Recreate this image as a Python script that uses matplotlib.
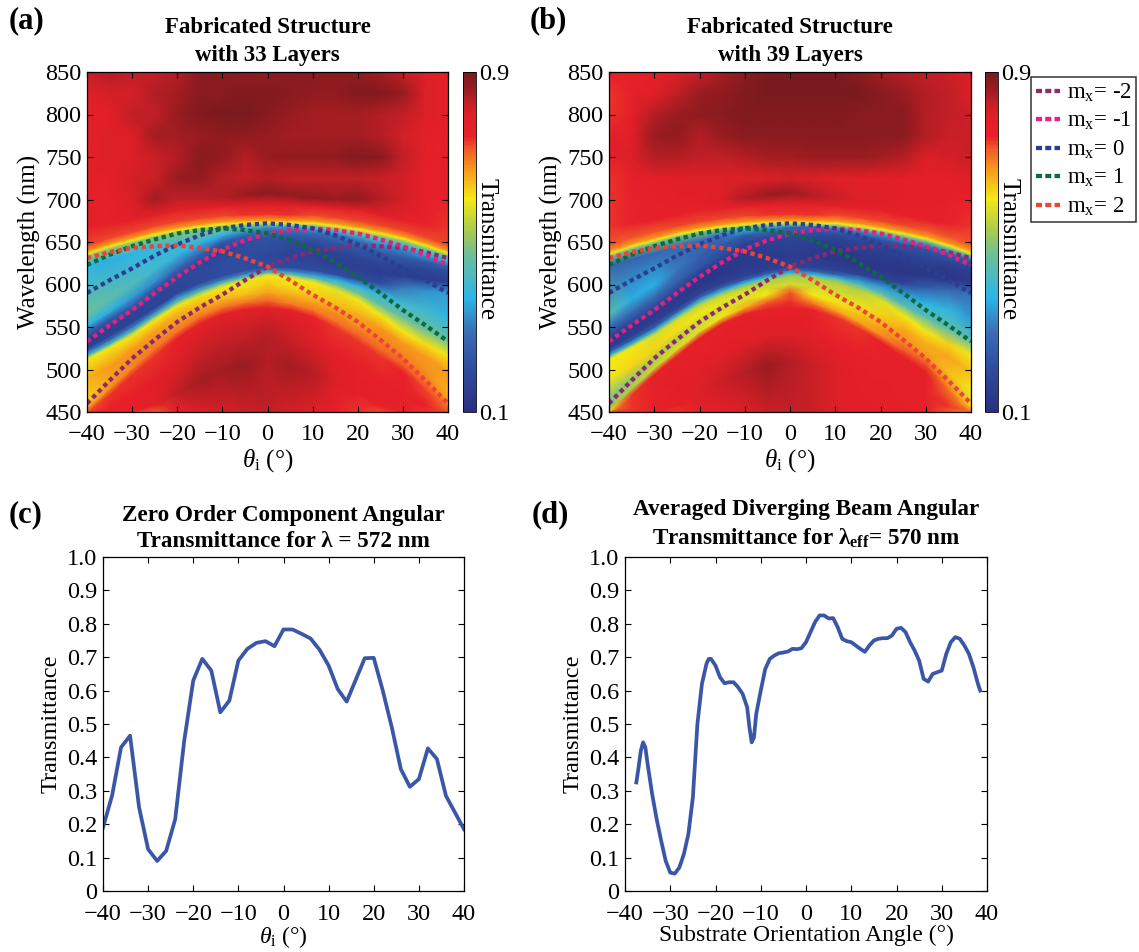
import numpy as np
import matplotlib
matplotlib.use('Agg')
from matplotlib import pyplot as plt
from matplotlib.colors import LinearSegmentedColormap, Normalize
from matplotlib.cm import ScalarMappable
from matplotlib.lines import Line2D

plt.rcParams['font.family'] = ['Liberation Serif', 'DejaVu Serif']
plt.rcParams['mathtext.fontset'] = 'custom'
plt.rcParams['mathtext.rm'] = 'Liberation Serif'
plt.rcParams['mathtext.it'] = 'Liberation Serif:italic'
plt.rcParams['mathtext.bf'] = 'Liberation Serif:bold'

W, H = 1139, 952

# angles of the columns (a) and (b)
angles = [-40, -35, -30, -25, -20, -15, -10, -5, 0, 5, 10, 15, 20, 25, 30, 35, 40]

# wavelength of each mesh row, per column, following the bands in the picture
wl_rows = [
    [450, 450, 450, 450, 450, 450, 450, 450, 450, 450, 450, 450, 450, 450, 450, 450, 450],
    [450, 450, 451, 458, 472, 486, 497, 505, 510, 505, 497, 486, 472, 458, 451, 450, 450],
    [450, 455, 470, 488, 505, 520, 532, 538, 541, 538, 532, 520, 505, 488, 470, 458, 450],
    [450, 470, 494, 516, 537, 554, 565, 571, 573, 570, 562, 549, 533, 515, 497, 477, 457],
    [455, 478, 502, 524, 545, 562, 573, 579, 581, 578, 570, 557, 541, 523, 505, 485, 465],
    [463, 488, 513, 535, 556, 572, 582, 588, 591, 588, 580, 567, 551, 534, 516, 497, 476],
    [490, 503, 523, 546, 565, 580, 590, 597, 601, 598, 590, 577, 565, 549, 531, 515, 497],
    [512, 526, 540, 558, 575, 587, 597, 605, 611, 608, 603, 594, 582, 564, 545, 530, 517],
    [516, 530, 545, 563, 580, 592, 602, 609, 614, 612, 608, 601, 590, 576, 562, 548, 535],
    [521, 535, 550, 568, 585, 597, 606, 613, 618, 616, 612, 606, 598, 588, 578, 570, 560],
    [525, 540, 556, 573, 590, 602, 611, 617, 621, 620, 617, 612, 606, 601, 597, 593, 590],
    [535, 550, 565, 583, 600, 613, 625, 631, 635, 634, 630, 624, 618, 613, 610, 606, 603],
    [545, 560, 575, 594, 612, 626, 640, 650, 655, 652, 645, 637, 630, 626, 622, 618, 615],
    [552, 568, 585, 603, 620, 636, 650, 657, 660, 658, 655, 650, 645, 638, 632, 627, 622],
    [565, 583, 600, 618, 635, 648, 658, 662, 664, 663, 661, 658, 653, 647, 641, 634, 627],
    [622, 630, 637, 645, 652, 659, 664, 667, 668, 668, 666, 663, 658, 652, 646, 638, 630],
    [633, 642, 649, 656, 661, 665, 668, 669.5, 670, 669.5, 669, 666, 662, 657, 651, 643, 634],
    [636, 645, 652, 659, 664, 668, 671, 672.5, 673, 672.5, 672, 669, 665, 660, 654, 646, 637],
    [639, 648, 655, 662, 667, 671, 674, 675.5, 676, 675.5, 675, 672, 668, 663, 657, 649, 640],
    [646, 655, 662, 669, 674, 678, 681, 682, 683, 682, 682, 679, 675, 670, 664, 656, 647],
    [668, 672, 676, 682, 688, 690, 692, 694, 695, 694, 692, 690, 688, 682, 676, 672, 668],
    [700, 700, 700, 700, 700, 700, 702, 705, 708, 705, 702, 700, 700, 700, 700, 700, 700],
    [725, 725, 725, 725, 725, 725, 725, 725, 725, 725, 725, 725, 725, 725, 725, 725, 725],
    [750, 750, 750, 750, 750, 750, 750, 750, 750, 750, 750, 750, 750, 750, 750, 750, 750],
    [775, 775, 775, 775, 775, 775, 775, 775, 775, 775, 775, 775, 775, 775, 775, 775, 775],
    [800, 800, 800, 800, 800, 800, 800, 800, 800, 800, 800, 800, 800, 800, 800, 800, 800],
    [825, 825, 825, 825, 825, 825, 825, 825, 825, 825, 825, 825, 825, 825, 825, 825, 825],
    [850, 850, 850, 850, 850, 850, 850, 850, 850, 850, 850, 850, 850, 850, 850, 850, 850],
]

# transmittance at those mesh nodes, 33 layers
T_33 = [
    [.74, .76, .74, .72, .76, .80, .81, .82, .83, .81, .80, .76, .74, .73, .75, .76, .72],
    [.75, .76, .77, .78, .83, .85, .85, .86, .84, .85, .84, .80, .78, .76, .75, .74, .74],
    [.73, .75, .77, .79, .80, .82, .83, .83, .84, .82, .80, .78, .77, .77, .77, .75, .72],
    [.72, .74, .74, .74, .75, .76, .77, .77, .78, .77, .75, .74, .74, .74, .75, .73, .70],
    [.66, .68, .69, .70, .70, .70, .70, .70, .71, .69, .70, .70, .71, .71, .72, .70, .66],
    [.62, .66, .68, .68, .67, .66, .65, .64, .66, .65, .66, .68, .68, .69, .69, .68, .65],
    [.65, .67, .67, .66, .65, .63, .62, .61, .63, .61, .62, .64, .65, .67, .67, .67, .67],
    [.60, .60, .60, .60, .60, .59, .60, .59, .60, .60, .60, .59, .60, .60, .60, .61, .60],
    [.42, .42, .44, .45, .45, .45, .44, .45, .45, .45, .45, .47, .48, .46, .46, .46, .46],
    [.28, .28, .30, .30, .32, .30, .30, .30, .30, .31, .33, .36, .38, .38, .40, .40, .38],
    [.17, .17, .17, .17, .18, .19, .20, .20, .20, .20, .20, .20, .20, .20, .30, .33, .34],
    [.15, .16, .17, .17, .18, .19, .20, .20, .19, .17, .17, .16, .16, .15, .15, .15, .15],
    [.27, .25, .25, .22, .20, .18, .17, .20, .22, .20, .17, .17, .17, .18, .18, .18, .20],
    [.38, .36, .34, .32, .28, .26, .24, .24, .25, .24, .23, .23, .24, .24, .24, .24, .26],
    [.47, .45, .43, .40, .38, .36, .36, .32, .28, .28, .28, .28, .30, .32, .32, .34, .36],
    [.37, .36, .37, .38, .42, .46, .47, .42, .33, .34, .36, .38, .40, .40, .38, .38, .38],
    [.50, .50, .50, .50, .50, .50, .50, .50, .48, .48, .48, .50, .50, .50, .50, .50, .50],
    [.60, .60, .60, .60, .60, .60, .60, .60, .60, .60, .60, .60, .60, .60, .60, .60, .60],
    [.67, .67, .67, .67, .67, .67, .67, .67, .67, .67, .67, .67, .67, .67, .67, .67, .67],
    [.73, .73, .73, .73, .73, .73, .73, .74, .74, .74, .73, .73, .73, .73, .73, .73, .73],
    [.76, .77, .78, .79, .78, .78, .78, .80, .80, .80, .78, .78, .78, .78, .77, .76, .74],
    [.76, .77, .80, .85, .83, .83, .84, .86, .88, .87, .87, .86, .87, .84, .81, .77, .76],
    [.77, .78, .81, .82, .86, .87, .84, .83, .84, .83, .83, .83, .83, .82, .81, .77, .76],
    [.77, .80, .80, .82, .84, .88, .87, .84, .86, .87, .87, .87, .89, .88, .83, .78, .76],
    [.78, .80, .80, .85, .85, .86, .87, .87, .86, .85, .85, .85, .85, .84, .81, .78, .76],
    [.78, .78, .83, .83, .86, .89, .90, .90, .88, .86, .85, .85, .85, .84, .83, .80, .78],
    [.79, .81, .81, .84, .85, .88, .88, .89, .89, .88, .87, .87, .89, .89, .86, .80, .78],
    [.82, .84, .83, .83, .84, .88, .88, .87, .87, .88, .88, .87, .87, .85, .83, .80, .78],
]

# transmittance at those mesh nodes, 39 layers
T_39 = [
    [.68, .72, .76, .74, .77, .78, .80, .82, .83, .82, .80, .79, .78, .78, .76, .72, .70],
    [.74, .74, .76, .78, .80, .82, .84, .86, .84, .82, .80, .78, .78, .76, .76, .72, .68],
    [.72, .74, .76, .78, .78, .79, .79, .80, .80, .79, .77, .76, .77, .77, .77, .74, .70],
    [.62, .74, .76, .76, .76, .76, .76, .76, .76, .75, .74, .74, .75, .76, .76, .70, .62],
    [.52, .54, .56, .58, .58, .60, .65, .72, .74, .70, .66, .66, .68, .72, .73, .66, .58],
    [.48, .50, .53, .54, .56, .57, .58, .60, .72, .60, .60, .63, .66, .68, .67, .64, .60],
    [.60, .62, .62, .61, .60, .59, .59, .57, .57, .57, .57, .59, .62, .65, .65, .66, .64],
    [.60, .60, .58, .58, .56, .56, .54, .53, .52, .53, .54, .54, .58, .60, .60, .62, .60],
    [.40, .40, .42, .42, .42, .40, .38, .38, .38, .38, .40, .42, .45, .44, .44, .45, .44],
    [.24, .24, .25, .25, .26, .25, .24, .25, .26, .25, .26, .32, .34, .34, .37, .38, .34],
    [.16, .16, .16, .16, .16, .16, .16, .16, .17, .17, .17, .17, .17, .18, .24, .28, .28],
    [.14, .14, .14, .14, .13, .13, .14, .14, .15, .14, .13, .13, .13, .13, .13, .13, .14],
    [.24, .22, .20, .18, .15, .14, .14, .16, .18, .16, .14, .14, .14, .14, .14, .14, .15],
    [.30, .28, .28, .25, .22, .20, .18, .20, .21, .19, .17, .17, .17, .18, .18, .18, .19],
    [.44, .36, .36, .30, .26, .24, .24, .26, .24, .22, .22, .22, .22, .22, .22, .22, .22],
    [.26, .26, .27, .27, .28, .30, .36, .34, .26, .26, .30, .32, .32, .32, .30, .30, .30],
    [.48, .48, .48, .48, .48, .48, .48, .48, .46, .46, .46, .48, .48, .48, .48, .48, .48],
    [.60, .60, .60, .60, .60, .60, .60, .60, .60, .60, .60, .60, .60, .60, .60, .60, .60],
    [.67, .67, .67, .67, .67, .67, .67, .67, .67, .67, .67, .67, .67, .67, .67, .67, .67],
    [.72, .72, .72, .73, .73, .73, .73, .74, .74, .74, .73, .73, .73, .73, .72, .72, .72],
    [.74, .75, .76, .76, .77, .77, .77, .78, .78, .78, .77, .77, .77, .76, .76, .75, .74],
    [.74, .75, .77, .78, .78, .80, .84, .86, .86, .84, .82, .80, .80, .78, .78, .76, .76],
    [.74, .76, .78, .79, .80, .80, .80, .80, .81, .80, .79, .78, .78, .78, .78, .78, .80],
    [.77, .80, .84, .84, .83, .83, .84, .85, .85, .86, .86, .86, .85, .84, .80, .81, .82],
    [.78, .78, .86, .87, .84, .86, .88, .88, .88, .88, .88, .88, .88, .88, .84, .82, .82],
    [.74, .78, .84, .86, .87, .88, .89, .89, .89, .89, .89, .88, .88, .88, .84, .83, .82],
    [.74, .76, .79, .83, .86, .87, .89, .90, .90, .90, .90, .90, .88, .86, .84, .83, .80],
    [.78, .76, .78, .80, .82, .85, .88, .90, .90, .90, .90, .88, .85, .84, .83, .82, .80],
]

# diffraction order curves over the heatmaps
m_minus2 = [460, 487, 513, 535, 556, 573, 588, 605, 621, 631, 639, 643, 646, 645, 643, 638, 631]
m_minus1 = [533, 552, 570, 590, 609, 626, 641, 652, 660, 664, 666, 664, 660, 653, 645, 635, 623]
m_zero = [590, 605, 619, 634, 647, 658, 666, 670, 672, 670, 666, 658, 647, 634, 619, 605, 590]
m_plus1 = [623, 635, 645, 653, 660, 664, 666, 664, 660, 652, 641, 626, 609, 590, 570, 552, 533]
m_plus2 = [631, 638, 643, 645, 646, 643, 639, 631, 621, 605, 588, 573, 556, 535, 513, 487, 460]
order_series = [m_minus2, m_minus1, m_zero, m_plus1, m_plus2]
order_labels = ['m$_{\\mathrm{x}}$= -2', 'm$_{\\mathrm{x}}$= -1', 'm$_{\\mathrm{x}}$= 0',
                'm$_{\\mathrm{x}}$= 1', 'm$_{\\mathrm{x}}$= 2']
order_colors = ['#8b2a6f', '#e6207f', '#2a3f92', '#0c6b3c', '#ee4337']

# panel (c)
zero_angle = list(range(-40, 41, 2))
zero_T = [.19, .285, .43, .465, .25, .125, .09, .12, .215, .45, .63, .695, .66, .535, .57, .69,
          .725, .743, .748, .733, .783, .783, .77, .756, .722, .675, .605, .567, .632, .697, .698,
          .60, .49, .365, .312, .335, .427, .395, .285, .235, .185]

# panel (d)
beam_angle = [-37.5, -37, -36.5, -36, -35.5, -35, -34, -33, -32, -31, -30, -29, -28, -27, -26, -25,
              -24, -23, -22, -21.5, -21, -20, -19, -18, -17, -16, -15, -14, -13, -12.5, -12, -11.5,
              -11, -10, -9, -8, -7, -6, -5, -4, -3, -2, -1, 0, 1, 2, 3, 4, 5, 6, 7, 8, 9, 10, 11,
              12, 13, 14, 15, 16, 17, 18, 19, 20, 21, 22, 23, 24, 25, 26, 27, 28, 29, 30, 31, 32,
              33, 34, 35, 36, 37, 38, 38.5]
beam_T = [.325, .37, .42, .445, .43, .38, .29, .215, .15, .09, .055, .052, .07, .11, .17, .28,
          .50, .62, .68, .695, .695, .675, .64, .622, .625, .625, .61, .59, .55, .49, .445, .46,
          .53, .60, .665, .695, .705, .712, .714, .717, .725, .724, .727, .745, .775, .805, .825,
          .825, .816, .817, .79, .755, .748, .745, .735, .725, .716, .735, .75, .755, .757, .757,
          .765, .785, .788, .775, .745, .72, .69, .635, .627, .65, .655, .66, .71, .745, .76,
          .755, .735, .71, .67, .62, .60]

# colours of the colorbar, bottom to top
cmap_vals = [.10, .21, .29, .367, .47, .525, .603, .675, .72, .75, .80, .83, .86, .90]
cmap_cols = ['#2a2f80', '#2f4fa2', '#3a6fb5', '#2bb5e8', '#6dbf9a', '#a6ca4f', '#f5e814',
             '#f7941d', '#f1592a', '#e8202a', '#e01f27', '#c21f26', '#9a1c20', '#7a1a1e']
cmap = LinearSegmentedColormap.from_list(
    'trans', [((v - .1) / .8, c) for v, c in zip(cmap_vals, cmap_cols)], N=256)
norm = Normalize(.1, .9)

tick_x = ['\u221240', '\u221230', '\u221220', '\u221210', '0', '10', '20', '30', '40']


def px_axes(fig, x0, y0, x1, y1):
    # pixel box, origin top left
    return fig.add_axes([x0 / W, 1 - y1 / H, (x1 - x0) / W, (y1 - y0) / H])


def box_ticks(ax):
    ax.tick_params(direction='in', top=True, right=True, length=4, width=.8, labelsize=17.5)
    ax.tick_params(axis='x', pad=9)
    ax.tick_params(axis='y', pad=4)
    for s in ax.spines.values():
        s.set_linewidth(.9)


def heat_panel(fig, box, cbox, T, title):
    ax = px_axes(fig, *box)
    wl = np.array(wl_rows, float)
    th = np.tile(np.array(angles, float), (wl.shape[0], 1))
    ax.pcolormesh(th, wl, np.array(T), cmap=cmap, norm=norm, shading='gouraud', rasterized=True)
    for vals, col in zip(order_series, order_colors):
        ax.plot(angles, vals, color=col, lw=3.1, ls=(0, (1.0, .85)))
    ax.set_xlim(-40, 40)
    ax.set_ylim(450, 850)
    ax.set_xticks(range(-40, 41, 10))
    ax.set_xticklabels(tick_x)
    ax.set_yticks(range(450, 851, 50))
    box_ticks(ax)
    ax.set_ylabel('Wavelength (nm)', fontsize=18, labelpad=3)
    ax.set_xlabel('$\\mathit{\\theta}_{\\mathrm{i}}$ (\u00b0)', fontsize=18, labelpad=1)
    ax.set_title(title, fontsize=16.5, fontweight='bold', pad=8, linespacing=1.4)
    cax = px_axes(fig, *cbox)
    cb = fig.colorbar(ScalarMappable(norm=norm, cmap=cmap), cax=cax)
    cb.set_ticks([.1, .9])
    cb.set_ticklabels(['0.1', '0.9'])
    cb.ax.tick_params(length=0, labelsize=17.5, pad=2)
    cb.outline.set_linewidth(.6)
    cb.set_label('Transmittance', rotation=270, fontsize=18, labelpad=-8, y=.48)
    return ax


def line_panel(fig, box, x, y, title, xlabel, title_pad):
    ax = px_axes(fig, *box)
    ax.plot(x, y, color='#3a57a7', lw=2.7)
    ax.set_xlim(-40, 40)
    ax.set_ylim(0, 1)
    ax.set_xticks(range(-40, 41, 10))
    ax.set_xticklabels(tick_x)
    ax.set_yticks(np.arange(0, 1.01, .1))
    ax.set_yticklabels(['0', '0.1', '0.2', '0.3', '0.4', '0.5', '0.6', '0.7', '0.8', '0.9', '1.0'])
    box_ticks(ax)
    ax.set_ylabel('Transmittance', fontsize=17.5, labelpad=4)
    ax.set_xlabel(xlabel, fontsize=17, labelpad=0)
    ax.set_title(title, fontsize=16.7, fontweight='bold', pad=title_pad, linespacing=1.35)
    return ax


fig = plt.figure(figsize=(W / 100, H / 100), dpi=100)

heat_panel(fig, (87, 72, 448, 412), (463, 72, 476, 412), T_33, 'Fabricated Structure\nwith 33 Layers')
heat_panel(fig, (609, 72, 971, 412), (985, 72, 998, 412), T_39, 'Fabricated Structure\nwith 39 Layers')
line_panel(fig, (103, 557, 464, 891), zero_angle, zero_T,
           'Zero Order Component Angular\nTransmittance for \u03bb = 572 nm',
           '$\\mathit{\\theta}_{\\mathrm{i}}$ (\u00b0)', 7)
line_panel(fig, (625, 557, 987, 891), beam_angle, beam_T,
           'Averaged Diverging Beam Angular\nTransmittance for \u03bb$_{\\mathbf{eff}}$= 570 nm',
           'Substrate Orientation Angle (\u00b0)', 9)

for lab, x, y in [('(a)', 9, 28), ('(b)', 530, 28), ('(c)', 9, 522), ('(d)', 532, 522)]:
    fig.text(x / W, 1 - y / H, lab, fontsize=22, fontweight='bold')

handles = [Line2D([], [], color=c, lw=3.1, ls=(0, (1.4, .75))) for c in order_colors]
leg = fig.legend(handles, order_labels, loc='upper left', bbox_to_anchor=(1031 / W, 1 - 77 / H),
                 fontsize=16.5, frameon=True, fancybox=False, edgecolor='#333333', framealpha=1,
                 handlelength=1.05, handletextpad=.3, labelspacing=.27, borderpad=.2,
                 borderaxespad=0)
leg.get_frame().set_linewidth(1.1)

fig.savefig('out.png', dpi=100)
